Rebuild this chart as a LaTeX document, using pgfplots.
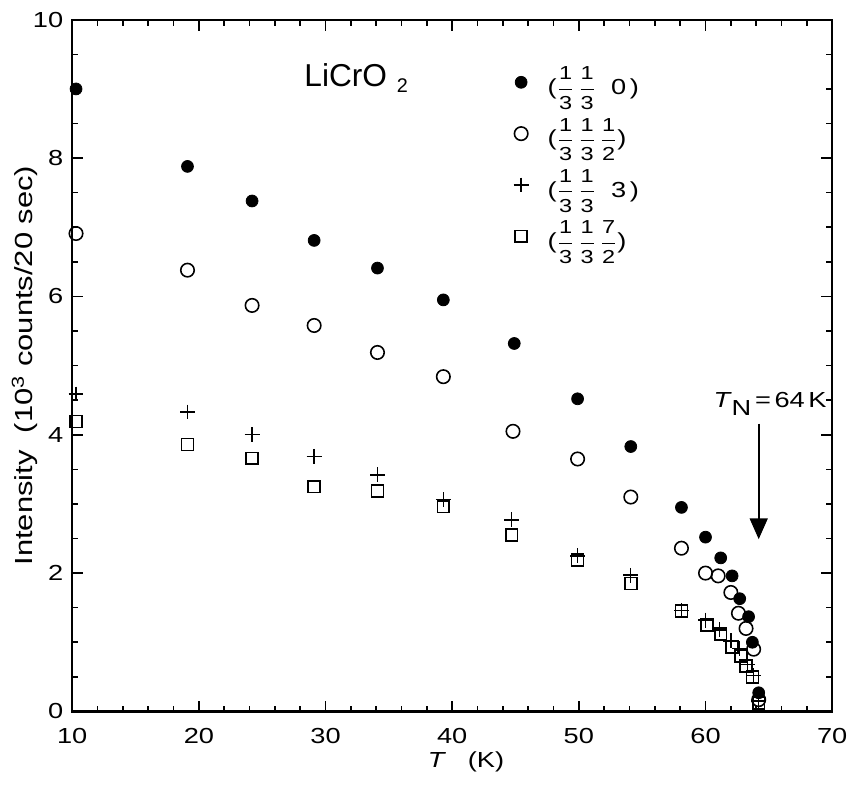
\documentclass[border=0pt]{standalone}
\usepackage{amsmath}
\usepackage{fontspec}
\setmainfont{Liberation Sans}[FakeStretch=1.25]
\newfontfamily\plainsf{Liberation Sans}
\usepackage{pgfplots}
\pgfplotsset{compat=1.18}
\usetikzlibrary{arrows.meta}
\newcommand{\fr}[2]{$\genfrac{}{}{0.5pt}{0}{\mbox{\fontsize{9.5}{10}\selectfont#1}}{\mbox{\fontsize{9.5}{10}\selectfont#2}}$}

\begin{document}
\begin{tikzpicture}[font=\fontsize{11}{13}\selectfont]
\begin{axis}[
  scale only axis,
  width=384pt, height=349.5pt,
  xmin=10, xmax=70, ymin=0, ymax=10,
  xtick={10,20,...,70}, ytick={0,2,...,10},
  minor x tick num=4, minor y tick num=3,
  tick align=inside,
  major tick length=5.5pt, minor tick length=3pt,
  every tick/.style={black, line width=0.8pt},
  axis line style={line width=1.2pt},
  /pgf/number format/assume math mode=true,
  tick label style={font=\fontsize{11}{13}\selectfont},
  xlabel style={font=\fontsize{11}{13}\selectfont},
  ylabel style={font=\fontsize{12.5}{14}\selectfont},
  xticklabel style={yshift=-5pt},
  yticklabel style={xshift=-1pt},
  xlabel={\textit{T}\quad(K)},
  ylabel={Intensity\ \ (10\textsuperscript{3} counts/20 sec)},
  xlabel style={at={(axis description cs:0.5,0)}, anchor=center, yshift=-25.5pt, xshift=7pt},
  ylabel style={at={(axis description cs:0,0.5)}, anchor=center, yshift=24pt},
  clip=false,
  legend style={at={(axis cs:44.1,9.38)}, anchor=north west, draw=none, fill=none,
    inner sep=0pt, row sep=6.5pt, nodes={inner sep=2pt, font=\fontsize{11}{13}\selectfont}},
  legend cell align=left,
  legend image code/.code={\path (-4pt,0) (15pt,0); \draw[#1] plot coordinates {(4pt,0)};},
]
\addplot[only marks, mark=*, mark size=3pt, black] coordinates {
(10.3,9.00) (19.1,7.88) (24.2,7.38) (29.1,6.81) (34.1,6.41) (39.3,5.95)
(44.9,5.32) (49.9,4.52) (54.1,3.83) (58.1,2.95) (60.0,2.52) (61.2,2.22)
(62.1,1.96) (62.7,1.63) (63.4,1.37) (63.7,1.00) (64.2,0.27)};
\addlegendentry{(\fr13\,\fr13\ \ 0\,)}
\addplot[only marks, mark=o, mark size=3.4pt, line width=0.8pt, black] coordinates {
(10.3,6.91) (19.1,6.38) (24.2,5.87) (29.1,5.58) (34.1,5.19) (39.3,4.84)
(44.8,4.05) (49.9,3.65) (54.1,3.10) (58.1,2.36) (60.0,2.00) (61.0,1.96)
(62.0,1.72) (62.6,1.42) (63.2,1.20) (63.8,0.90) (64.2,0.17)};
\addlegendentry{(\fr13\,\fr13\,\fr12)}
\addplot[only marks, mark=+, mark size=3.75pt, line width=0.7pt, black] coordinates {
(10.3,4.59) (19.1,4.33) (24.2,4.00) (29.1,3.69) (34.1,3.42) (39.3,3.06)
(44.7,2.77) (49.9,2.25) (54.1,1.97) (58.1,1.46) (60.0,1.32) (61.1,1.18)
(62.0,1.02) (62.7,0.91) (63.3,0.68) (63.8,0.52) (64.2,0.15)};
\addlegendentry{(\fr13\,\fr13\ \ 3\,)}
\addplot[only marks, mark=square, mark size=3pt, line width=0.8pt, black] coordinates {
(10.3,4.19) (19.1,3.86) (24.2,3.66) (29.1,3.25) (34.1,3.19) (39.3,2.96)
(44.7,2.55) (49.9,2.19) (54.1,1.85) (58.1,1.45) (60.1,1.25) (61.2,1.12)
(62.1,0.93) (62.8,0.80) (63.2,0.66) (63.7,0.50) (64.2,0.12)};
\addlegendentry{(\fr13\,\fr13\,\fr72)}

\node[anchor=base west, inner sep=0pt, font=\plainsf\fontsize{16}{19}\selectfont]
  at (axis cs:28.3,9.03) {LiCrO\hspace{5pt}\raisebox{-3pt}{\fontsize{10}{11}\selectfont 2}};
\node[anchor=base west, inner sep=0pt, font=\fontsize{11}{13}\selectfont]
  at (axis cs:60.6,4.39) {\textit{T}\raisebox{-4pt}{N}\,=\,64\,K};
\draw[line width=1pt, -{Triangle[length=10.5pt, width=9pt]}]
  (axis cs:64.2,4.16) -- (axis cs:64.2,2.49);

\coordinate (sw) at (rel axis cs:0,0);
\coordinate (ne) at (rel axis cs:1,1);
\end{axis}
\pgfresetboundingbox
\path[use as bounding box] ([xshift=-36.5pt, yshift=-38.5pt]sw) rectangle ([xshift=8pt, yshift=10pt]ne);
\end{tikzpicture}
\end{document}
